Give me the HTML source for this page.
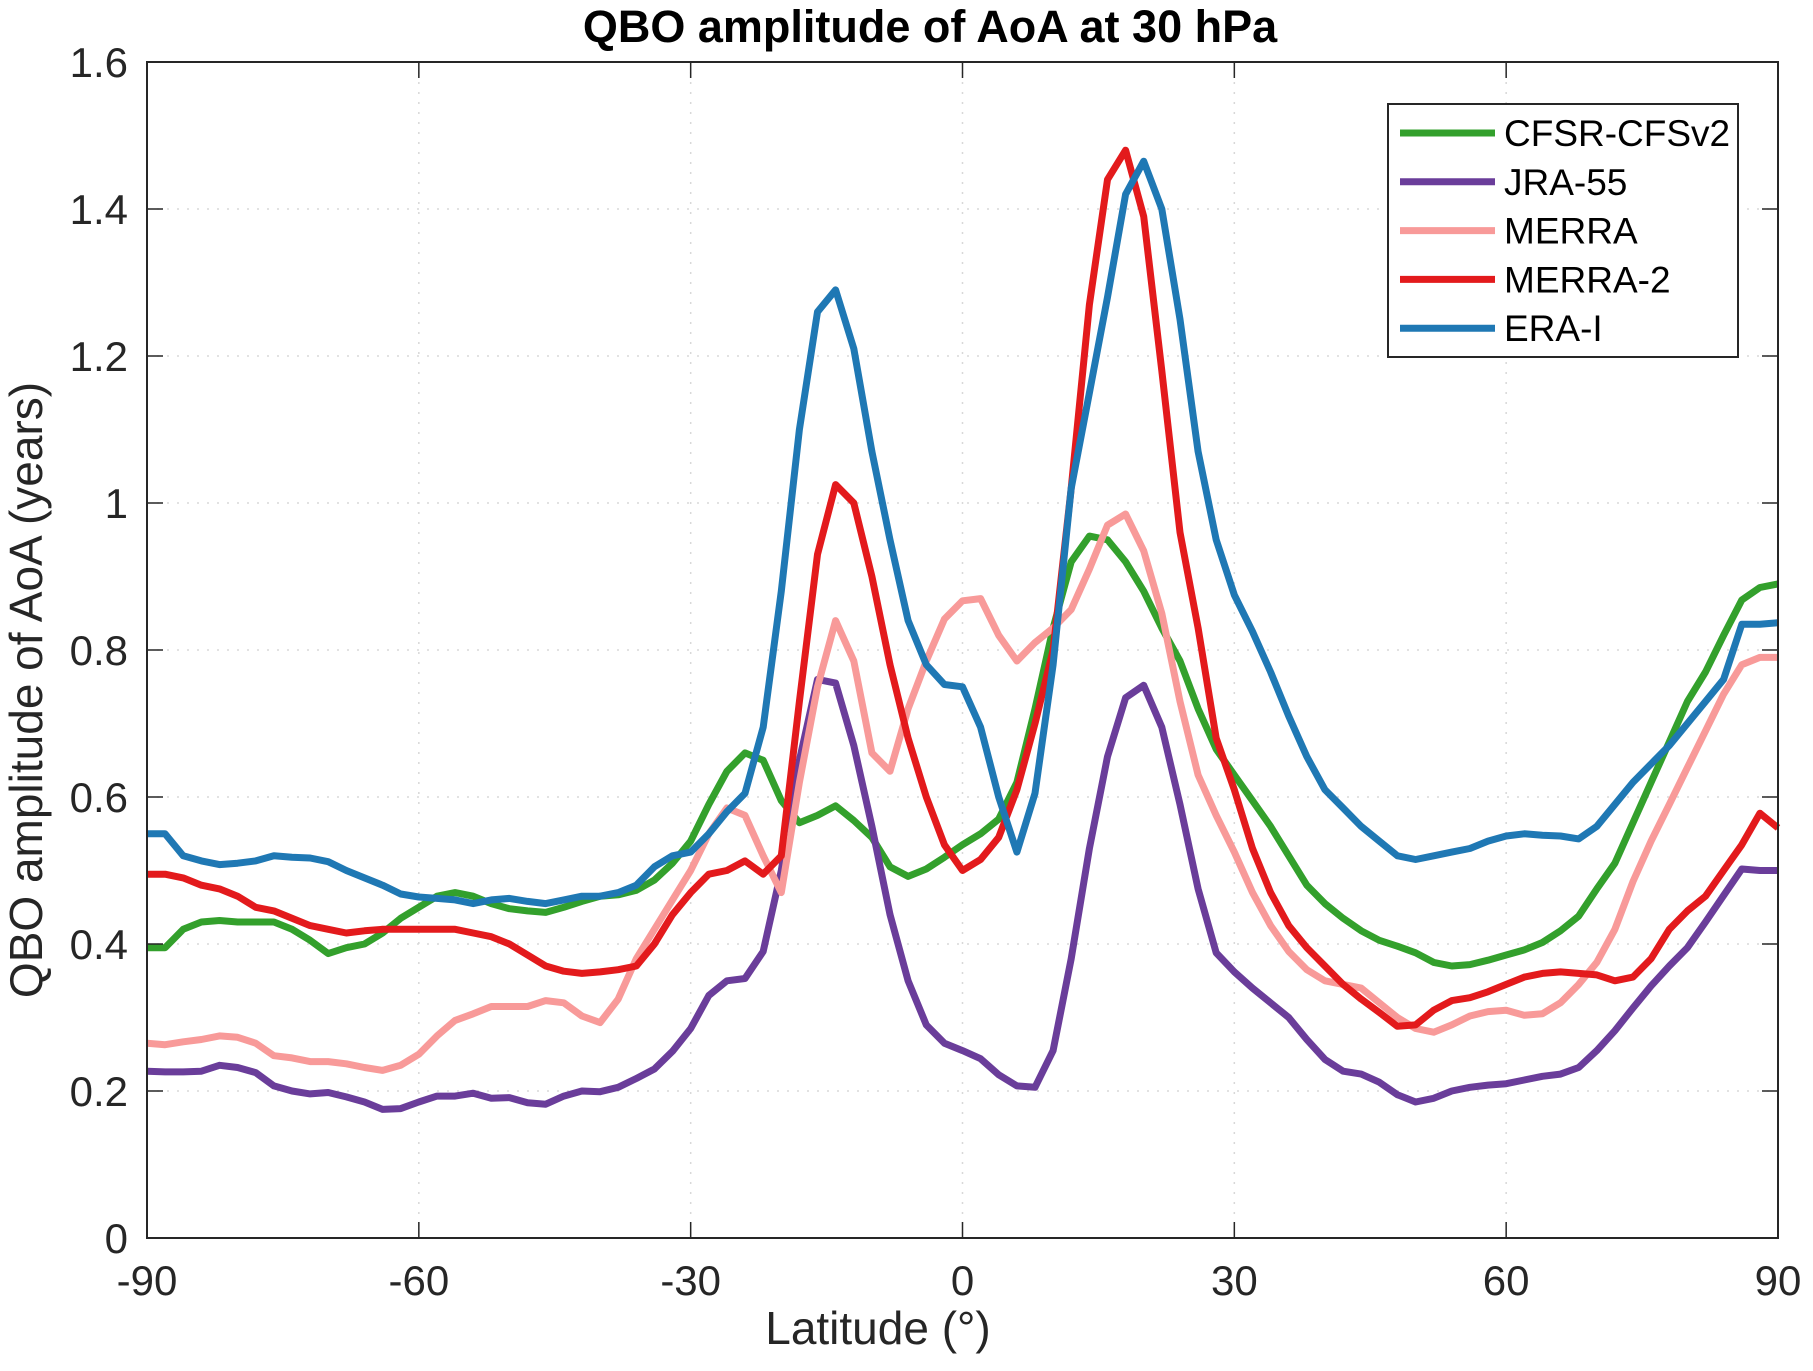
<!DOCTYPE html>
<html><head><meta charset="utf-8"><style>
html,body{margin:0;padding:0;background:#fff;}
svg{display:block;font-family:"Liberation Sans",Arial,sans-serif;}
</style></head><body>
<svg id="chart" width="1813" height="1371" viewBox="0 0 1813 1371">
<rect x="0" y="0" width="1813" height="1371" fill="#fff"/>
<text x="930" y="42" text-anchor="middle" font-size="45" font-weight="bold" fill="#000">QBO amplitude of AoA at 30 hPa</text>
<g id="grid"></g>
<g id="series"></g>
<g id="axes"></g>
<text x="878" y="1344" text-anchor="middle" font-size="46" fill="#262626">Latitude (°)</text>
<text transform="translate(42,690) rotate(-90)" text-anchor="middle" font-size="46" fill="#262626">QBO amplitude of AoA (years)</text>
<g id="legend"></g>
</svg>
<script>
const lats=[-90,-88,-86,-84,-82,-80,-78,-76,-74,-72,-70,-68,-66,-64,-62,-60,-58,-56,-54,-52,-50,-48,-46,-44,-42,-40,-38,-36,-34,-32,-30,-28,-26,-24,-22,-20,-18,-16,-14,-12,-10,-8,-6,-4,-2,0,2,4,6,8,10,12,14,16,18,20,22,24,26,28,30,32,34,36,38,40,42,44,46,48,50,52,54,56,58,60,62,64,66,68,70,72,74,76,78,80,82,84,86,88,90];
const cfsr=[.395,.395,.42,.43,.432,.43,.43,.43,.42,.405,.387,.395,.40,.415,.435,.45,.465,.47,.465,.455,.448,.445,.443,.45,.458,.465,.467,.473,.487,.51,.54,.59,.635,.66,.65,.595,.565,.575,.588,.568,.545,.505,.492,.502,.518,.535,.55,.57,.62,.72,.83,.92,.955,.95,.92,.88,.83,.785,.72,.665,.63,.595,.56,.52,.48,.455,.435,.418,.405,.397,.388,.375,.37,.372,.378,.385,.392,.402,.418,.438,.475,.51,.565,.62,.675,.73,.77,.82,.868,.885,.89];
const jra55=[.227,.226,.226,.227,.235,.232,.225,.207,.2,.196,.198,.192,.185,.175,.176,.185,.193,.193,.197,.19,.191,.184,.182,.193,.2,.199,.205,.217,.23,.254,.285,.33,.35,.353,.39,.5,.65,.76,.755,.67,.56,.44,.35,.29,.265,.255,.244,.222,.207,.205,.255,.38,.53,.655,.735,.752,.695,.59,.475,.388,.362,.34,.32,.3,.27,.243,.227,.223,.212,.195,.185,.19,.2,.205,.208,.21,.215,.22,.223,.232,.255,.282,.313,.343,.37,.395,.43,.466,.502,.5,.5];
const merra=[.265,.263,.267,.27,.275,.273,.265,.248,.245,.24,.24,.237,.232,.228,.235,.25,.275,.296,.305,.315,.315,.315,.323,.32,.302,.293,.325,.38,.42,.46,.5,.55,.585,.575,.52,.47,.62,.75,.84,.785,.66,.635,.72,.785,.842,.867,.87,.82,.785,.81,.83,.855,.91,.97,.985,.935,.85,.73,.63,.575,.525,.47,.425,.39,.365,.35,.345,.34,.32,.30,.285,.28,.29,.302,.308,.31,.303,.305,.32,.345,.375,.42,.485,.54,.59,.64,.69,.74,.78,.79,.79];
const merra2=[.495,.495,.49,.48,.475,.465,.45,.445,.435,.425,.42,.415,.418,.42,.42,.42,.42,.42,.415,.41,.40,.385,.37,.363,.36,.362,.365,.37,.40,.44,.47,.495,.50,.513,.495,.52,.73,.93,1.025,1.0,.9,.78,.68,.6,.535,.50,.515,.545,.61,.70,.80,1.02,1.27,1.44,1.48,1.39,1.18,.96,.83,.68,.61,.53,.47,.425,.395,.37,.345,.325,.307,.288,.29,.31,.323,.327,.335,.345,.355,.36,.362,.36,.358,.35,.355,.38,.42,.445,.465,.50,.535,.578,.558];
const erai=[.55,.55,.52,.513,.508,.51,.513,.52,.518,.517,.512,.50,.49,.48,.468,.464,.462,.46,.455,.46,.462,.458,.455,.46,.465,.465,.47,.48,.505,.52,.525,.55,.58,.605,.695,.88,1.1,1.26,1.29,1.21,1.07,.95,.84,.78,.753,.75,.695,.6,.525,.605,.78,1.02,1.15,1.28,1.42,1.465,1.40,1.25,1.07,.95,.875,.825,.77,.71,.655,.61,.585,.56,.54,.52,.515,.52,.525,.53,.54,.547,.55,.548,.547,.543,.56,.59,.62,.645,.67,.70,.73,.76,.835,.835,.837];
const seriesNames=["CFSR-CFSv2","JRA-55","MERRA","MERRA-2","ERA-I"];
const xTicks=[-90,-60,-30,0,30,60,90];
const xTickLabels=["-90","-60","-30","0","30","60","90"];
const yTicks=[0,0.2,0.4,0.6,0.8,1,1.2,1.4,1.6];
const yTickLabels=["0","0.2","0.4","0.6","0.8","1","1.2","1.4","1.6"];

const NS="http://www.w3.org/2000/svg";
const L=147,R=1778,T=62,B=1238;
const xs=v=>L+(v+90)/180*(R-L);
const ys=v=>B-v/1.6*(B-T);
function mk(tag,attrs,parent){const e=document.createElementNS(NS,tag);for(const k in attrs)e.setAttribute(k,attrs[k]);parent.appendChild(e);return e;}
const grid=document.getElementById('grid'),axes=document.getElementById('axes'),sg=document.getElementById('series'),lg=document.getElementById('legend');
xTicks.forEach((t,i)=>{
  const x=xs(t);
  if(i>0&&i<xTicks.length-1){const g=mk('line',{x1:x,x2:x,y1:T,y2:B,stroke:'#d8d8d8','stroke-width':1.5,'stroke-dasharray':'2 8'},grid);
  
  }
  const a=mk('line',{x1:x,x2:x,y1:B,y2:B-16,stroke:'#262626','stroke-width':1.5},axes);
  
  
  const b=mk('line',{x1:x,x2:x,y1:T,y2:T+16,stroke:'#262626','stroke-width':1.5},axes);
  
  
  const tx=mk('text',{x:x,y:1295,'text-anchor':'middle','font-size':42,fill:'#262626'},axes);
  tx.textContent=xTickLabels[i];
  
  
});
yTicks.forEach((t,i)=>{
  const y=ys(t);
  if(i>0&&i<yTicks.length-1){const g=mk('line',{x1:L,x2:R,y1:y,y2:y,stroke:'#d8d8d8','stroke-width':1.5,'stroke-dasharray':'2 8'},grid);
  
  }
  const a=mk('line',{x1:L,x2:L+16,y1:y,y2:y,stroke:'#262626','stroke-width':1.5},axes);
  
  
  const b=mk('line',{x1:R,x2:R-16,y1:y,y2:y,stroke:'#262626','stroke-width':1.5},axes);
  
  
  const tx=mk('text',{x:128,y:y+15,'text-anchor':'end','font-size':42,fill:'#262626'},axes);
  tx.textContent=yTickLabels[i];
  
  
});
const frame=mk('rect',{x:L,y:T,width:R-L,height:B-T,fill:'none',stroke:'#262626','stroke-width':2},axes);


const data=[cfsr,jra55,merra,merra2,erai];
const colors=['#33a02c','#6a3d9a','#f89a99','#e31a1c','#1f78b4'];
const ids=['cfsr','jra55','merra','merra2','erai'];
data.forEach((d,k)=>{
  const p=mk('polyline',{points:d.map((v,i)=>xs(lats[i]).toFixed(1)+','+ys(v).toFixed(1)).join(' '),fill:'none',stroke:colors[k],'stroke-width':7,'stroke-linejoin':'round'},sg);
  
  
});
const box=mk('rect',{x:1388,y:104,width:350,height:253,fill:'#fff',stroke:'#262626','stroke-width':2},lg);


seriesNames.forEach((n,k)=>{
  const y=133+k*48.8;
  const l=mk('line',{x1:1400,x2:1495,y1:y,y2:y,stroke:colors[k],'stroke-width':7},lg);
  
  
  const t=mk('text',{x:1504,y:y+13,'font-size':37,fill:'#000'},lg);
  t.textContent=n;
  
  
});
</script>
</body></html>
